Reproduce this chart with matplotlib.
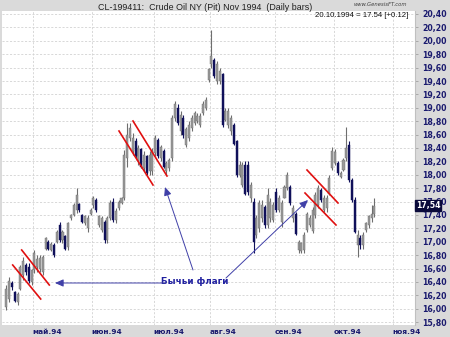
import matplotlib
matplotlib.use("Agg")
import matplotlib.pyplot as plt
import numpy as np

# ---- data (trading-day index, 0 = 2 May 1994) ----
day_index = list(range(-10, 122))
opens = [16.02,16.15,16.38,16.25,16.10,16.30,16.50,16.65,16.62,16.40,
         16.58,16.62,16.60,16.55,16.90,17.00,16.88,16.95,17.00,17.25,
         17.02,17.08,16.92,17.35,17.40,17.48,17.56,17.40,17.28,17.20,
         17.42,17.55,17.62,17.25,17.18,17.30,17.02,17.36,17.60,17.32,
         17.50,17.58,17.65,18.25,18.55,18.35,18.50,18.20,18.38,18.10,
         18.28,18.05,18.05,18.32,18.52,18.25,18.35,18.05,18.10,18.25,
         18.85,19.00,18.65,18.85,18.45,18.55,18.70,18.78,18.80,18.75,
         18.92,19.00,19.42,19.65,19.72,19.40,19.40,19.50,18.82,18.75,
         18.65,18.75,18.50,18.00,17.85,18.15,18.15,17.65,17.60,17.10,
         17.20,17.35,17.52,17.25,17.35,17.32,17.75,17.48,17.30,17.66,
         17.80,17.82,17.35,17.42,16.88,16.86,16.88,17.18,17.25,17.16,
         17.40,17.55,17.78,17.48,17.50,17.72,18.10,18.18,18.18,17.97,
         18.07,18.25,18.45,17.92,17.62,16.95,17.05,16.95,17.18,17.25,
         17.35,17.42]
highs = [16.35,16.47,16.42,16.27,16.25,16.65,16.77,16.68,16.68,16.60,
         16.88,16.80,16.80,16.80,17.07,17.02,17.00,16.98,17.18,17.30,
         17.18,17.10,17.30,17.42,17.58,17.80,17.58,17.42,17.40,17.40,
         17.50,17.68,17.65,17.40,17.38,17.33,17.38,17.62,17.65,17.50,
         17.62,17.67,18.37,18.77,18.77,18.62,18.55,18.45,18.40,18.35,
         18.30,18.35,18.40,18.60,18.55,18.45,18.38,18.20,18.25,18.89,
         19.10,19.05,18.95,18.90,18.71,18.80,18.90,18.95,18.92,18.92,
         19.10,19.16,19.60,20.16,19.75,19.70,19.60,19.52,19.00,19.00,
         18.90,18.77,18.52,18.20,18.19,18.20,18.20,17.90,17.65,17.40,
         17.62,17.62,17.55,17.80,17.65,17.60,17.80,17.70,17.62,17.85,
         18.04,17.85,17.55,17.45,17.03,17.00,17.15,17.45,17.40,17.52,
         17.75,17.85,17.80,17.70,17.70,18.00,18.41,18.38,18.20,18.05,
         18.25,18.71,18.50,17.95,17.67,17.18,17.10,17.15,17.30,17.40,
         17.55,17.65]
lows = [15.98,16.10,16.28,16.10,16.05,16.28,16.43,16.50,16.38,16.35,
        16.53,16.55,16.55,16.50,16.88,16.88,16.86,16.77,16.98,17.00,
        16.98,16.88,16.88,17.33,17.38,17.43,17.45,17.28,17.25,17.15,
        17.40,17.50,17.45,17.22,17.15,16.98,16.98,17.33,17.30,17.28,
        17.48,17.56,17.62,18.12,18.50,18.30,18.25,18.15,18.10,18.05,
        18.00,18.00,18.00,18.28,18.25,18.20,18.10,18.00,18.05,18.20,
        18.80,18.75,18.60,18.55,18.41,18.50,18.65,18.75,18.77,18.71,
        18.90,18.97,19.39,19.60,19.45,19.35,19.35,18.71,18.80,18.70,
        18.60,18.44,17.97,17.97,17.82,17.70,17.70,17.60,16.83,17.05,
        17.15,17.30,17.20,17.20,17.30,17.30,17.45,17.45,17.22,17.65,
        17.77,17.55,17.30,17.10,16.83,16.83,16.83,17.15,17.22,17.13,
        17.35,17.50,17.60,17.45,17.45,17.70,18.07,18.15,18.00,17.95,
        18.05,18.20,17.90,17.60,17.13,16.77,16.90,16.90,17.15,17.20,
        17.30,17.37]
closes = [16.30,16.42,16.32,16.12,16.22,16.62,16.72,16.55,16.42,16.58,
          16.84,16.75,16.76,16.78,17.05,16.90,16.97,16.80,17.15,17.03,
          17.15,16.90,17.28,17.40,17.55,17.70,17.47,17.30,17.38,17.35,
          17.48,17.65,17.48,17.38,17.35,17.02,17.35,17.58,17.33,17.46,
          17.60,17.65,18.30,18.60,18.70,18.55,18.28,18.40,18.12,18.30,
          18.02,18.30,18.35,18.55,18.28,18.42,18.12,18.18,18.22,18.85,
          19.05,18.78,18.90,18.60,18.68,18.75,18.85,18.92,18.88,18.88,
          19.05,19.12,19.58,19.78,19.48,19.65,19.55,18.75,18.95,18.95,
          18.85,18.46,18.00,18.15,18.15,17.72,17.75,17.85,17.00,17.35,
          17.58,17.55,17.25,17.70,17.60,17.55,17.48,17.65,17.58,17.82,
          18.00,17.58,17.50,17.12,17.00,16.98,17.10,17.42,17.36,17.48,
          17.70,17.80,17.62,17.65,17.66,17.95,18.36,18.34,18.02,18.03,
          18.22,18.40,17.92,17.62,17.15,17.10,16.95,17.10,17.28,17.38,
          17.42,17.54]

month_labels = ["май.94", "июн.94", "июл.94", "авг.94", "сен.94", "окт.94", "ноя.94"]
month_start_index = [0, 21, 43, 63, 86, 107, 128]
price_ticks = [15.80 + 0.2 * k for k in range(24)]

# ---- figure ----
W, H = 450, 337
fig = plt.figure(figsize=(W / 100, H / 100), dpi=100)
fig.patch.set_facecolor("#dadada")

x0, x1, y0, y1 = 2, 415, 11, 325
ax = fig.add_axes([x0 / W, 1 - y1 / H, (x1 - x0) / W, (y1 - y0) / H])
ax.set_facecolor("white")

px_per_day = 2.81
xc0 = 34.4
def fx(px):
    return (px - xc0) / px_per_day
def fy(py):
    return 20.40 - (py - 14) / 67.0

ax.set_xlim(fx(x0), fx(x1))
ax.set_ylim(fy(y1), fy(y0))

# grid
for p in price_ticks:
    ax.axhline(p, color="#d2d2d2", lw=0.6, ls=(0, (2.5, 2)), zorder=0)
for m in month_start_index:
    ax.axvline(m - 0.55, color="#d2d2d2", lw=0.6, ls=(0, (2.5, 2)), zorder=0)

# candles
idx = np.array(day_index, dtype=float)
o = np.array(opens); h = np.array(highs); l = np.array(lows); c = np.array(closes)
up = c >= o
up_col = "#9a9a9a"
up_edge = "#6e6e6e"
dn_col = "#10105a"
wick_cols = np.where(up, up_edge, dn_col)
ax.vlines(idx, l, h, colors=wick_cols, lw=0.8, zorder=2)
ax.bar(idx[up], (c - o)[up], bottom=o[up], width=0.72,
       color=up_col, edgecolor=up_edge, linewidth=0.3, zorder=3)
ax.bar(idx[~up], (o - c)[~up], bottom=c[~up], width=0.72,
       color=dn_col, edgecolor=dn_col, linewidth=0.3, zorder=3)

# flag lines (red)
red = "#e01010"
flags = [((12.7, 265), (40.7, 299)), ((21.7, 250), (49.3, 285)),
         ((119, 131), (153, 185)), ((133, 121), (167, 176)),
         ((307, 170), (338, 203)), ((305, 193), (336, 225))]
for (a, b) in flags:
    ax.plot([fx(a[0]), fx(b[0])], [fy(a[1]), fy(b[1])], color=red, lw=1.2, zorder=4)

# annotation
acol = "#2020a0"
ax.text(fx(195), fy(282), "Бычьи флаги", color=acol, fontsize=6.3, fontweight="bold",
        ha="center", va="center", family="DejaVu Sans", zorder=5)
arrows = [((166, 283), (55, 283)), ((193, 270), (165, 187)), ((226, 278), (308, 200))]
for tail, head in arrows:
    ax.annotate("", xy=(fx(head[0]), fy(head[1])), xytext=(fx(tail[0]), fy(tail[1])),
                arrowprops=dict(arrowstyle="-|>,head_length=0.5,head_width=0.22",
                                color="#4040a8", lw=0.7, shrinkA=0, shrinkB=0), zorder=5)

# axes styling
for s in ["top", "left", "bottom"]:
    ax.spines[s].set_visible(False)
ax.spines["right"].set_color("#c0c0c0")
ax.yaxis.tick_right()
ax.set_yticks(price_ticks)
ax.set_yticklabels([f"{p:.2f}".replace(".", ",") for p in price_ticks],
                   fontsize=5.6, fontweight="bold", color="#1a1a6e")
ax.tick_params(axis="y", length=2.5, width=0.6, color="#a0a0a0", pad=3)
ax.set_xticks([m - 0.55 for m in month_start_index])
ax.set_xticklabels(month_labels, fontsize=5.3, fontweight="bold", color="#1a1a6e", ha="left")
ax.tick_params(axis="x", length=0, pad=3)

# last price marker
last = closes[-1]
ax.text(1.002, last, f"{last:.2f}".replace(".", ","), transform=ax.get_yaxis_transform(),
        fontsize=5.6, fontweight="bold", color="white", va="center", ha="left",
        bbox=dict(boxstyle="square,pad=0.12", fc="#0a0a3a", ec="#0a0a3a"), zorder=6)

# header texts
fig.text(205 / W, 1 - 7 / H, "CL-199411:  Crude Oil NY (Pit) Nov 1994  (Daily bars)",
         fontsize=6.4, ha="center", va="center", family="Liberation Sans", color="#202020")
fig.text(380 / W, 1 - 5 / H, "www.GenesisFT.com", fontsize=3.8, style="italic",
         ha="center", va="center", color="#404040")
ax.text(fx(408), fy(15), "20.10.1994 = 17.54 [+0.12]", fontsize=5.6, ha="right",
        va="center", family="Liberation Sans", color="#101010", zorder=6)

fig.savefig("out.png", dpi=100, facecolor=fig.get_facecolor())
